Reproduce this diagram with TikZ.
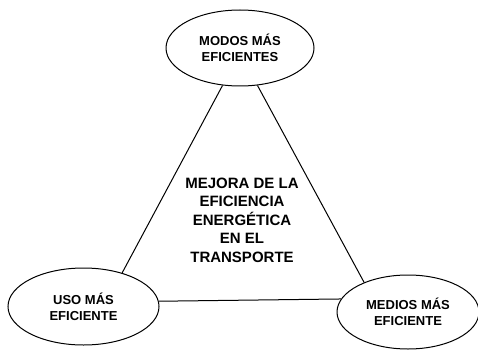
\documentclass[tikz,border=0pt]{standalone}
\usepackage{fontspec}
\setmainfont{Liberation Sans}
\usetikzlibrary{shapes.geometric}
\begin{document}
\begin{tikzpicture}[x=1pt,y=-1pt,
  oval/.style={ellipse,draw,line width=1pt,inner sep=0pt,align=center,
    font=\bfseries\fontsize{13}{16}\selectfont},
  link/.style={line width=1pt},
  center/.style={align=center,font=\bfseries\fontsize{15}{18.5}\selectfont}]
\useasboundingbox (0,0) rectangle (478,350);
\node[oval,minimum width=148pt,minimum height=76pt] (top) at (240,48) {MODOS MÁS\\EFICIENTES};
\node[oval,minimum width=151pt,minimum height=77pt] (left) at (83.5,306.5) {USO MÁS\\EFICIENTE};
\node[oval,minimum width=142pt,minimum height=74pt] (right) at (408,312) {MEDIOS MÁS\\EFICIENTE};
\node[center] (mid) at (242,220) {MEJORA DE LA\\EFICIENCIA\\ENERGÉTICA\\EN EL\\TRANSPORTE};
\draw[link] (top.245.8) -- (left.41);
\draw[link] (top.295.4) -- (right.146);
\draw[link] (left.4.7) -- (right.169);
\end{tikzpicture}
\end{document}
